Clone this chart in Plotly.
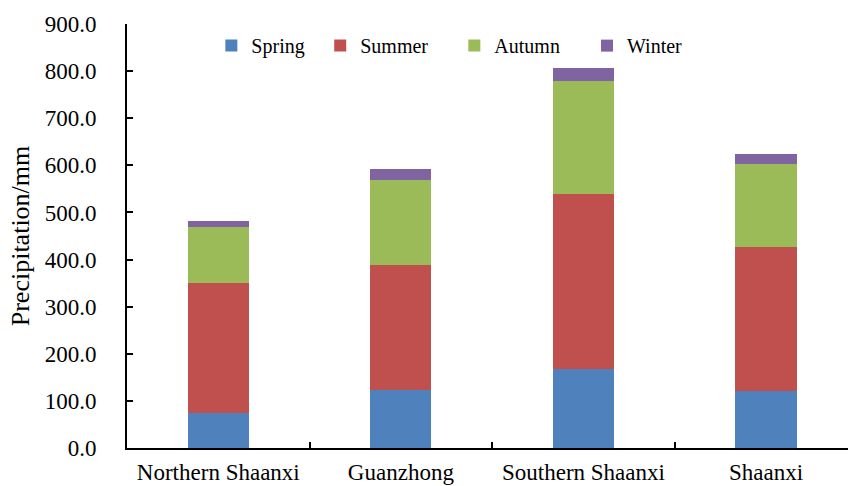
import plotly.graph_objects as go

# Seasonal precipitation (mm) by region
regions = ["Northern Shaanxi", "Guanzhong", "Southern Shaanxi", "Shaanxi"]
spring = [74, 123, 167, 120]
summer = [277, 266, 373, 307]
autumn = [118, 180, 238, 176]
winter = [13, 24, 29, 21]

seasons = ["Spring", "Summer", "Autumn", "Winter"]
season_values = [spring, summer, autumn, winter]
colors = ["#4F81BD", "#C0504D", "#9BBB59", "#8064A2"]
legend_ids = ["legend", "legend2", "legend3", "legend4"]

FONT = "Times New Roman, Liberation Serif, serif"

fig = go.Figure()
for name, vals, col, lg in zip(seasons, season_values, colors, legend_ids):
    fig.add_trace(go.Bar(
        x=regions, y=vals, name=name,
        marker=dict(color=col, line=dict(width=0)),
        width=0.335, legend=lg,
    ))

# one single-entry legend per season, spread along the top
legend_x = [0.117, 0.268, 0.454, 0.638]
legend_common = dict(
    orientation="h", xanchor="left", yanchor="middle", y=0.949,
    font=dict(family=FONT, size=20, color="black"),
    bgcolor="rgba(0,0,0,0)", borderwidth=0, itemwidth=30,
)
layout_legends = {lg: dict(x=lx, **legend_common) for lg, lx in zip(legend_ids, legend_x)}

fig.update_layout(
    barmode="stack",
    width=848, height=486,
    margin=dict(l=127, r=0, t=24, b=38),
    paper_bgcolor="white", plot_bgcolor="white",
    font=dict(family=FONT, color="black"),
    showlegend=True,
    **layout_legends,
)

fig.update_xaxes(
    range=[-0.5, 3.449],
    showline=True, linecolor="black", linewidth=2,
    ticks="inside", ticklen=6, tickwidth=2, tickcolor="black",
    tickson="boundaries",
    tickfont=dict(family=FONT, size=23, color="black"),
    ticklabelstandoff=2,
    showgrid=False, zeroline=False, automargin=False,
)
fig.update_yaxes(
    range=[0, 900], tickvals=[0, 100, 200, 300, 400, 500, 600, 700, 800, 900],
    tickformat=".1f",
    showline=True, linecolor="black", linewidth=2,
    ticks="inside", ticklen=6, tickwidth=2, tickcolor="black",
    tickfont=dict(family=FONT, size=23, color="black"),
    ticklabelstandoff=24,
    title=dict(text="Precipitation/mm", font=dict(family=FONT, size=26, color="black"), standoff=8),
    showgrid=False, zeroline=False, automargin=False,
)

fig.write_html("out.html")
